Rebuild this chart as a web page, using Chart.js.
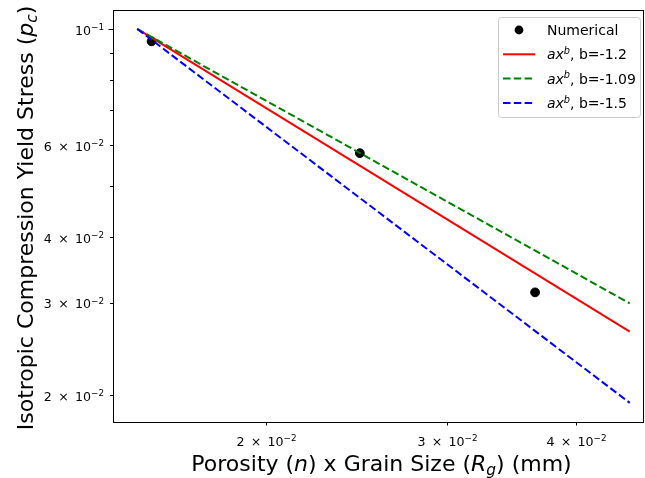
<!DOCTYPE html>
<html>
<head>
<meta charset="utf-8">
<script src="https://cdn.jsdelivr.net/npm/chart.js@4.4.0/dist/chart.umd.min.js"></script>
<style>
  html, body { margin: 0; padding: 0; background: #fff; }
  canvas { display: block; }
</style>
</head>
<body>
<canvas id="chart" width="645" height="478"></canvas>
<script>
// values
const xNumerical = [0.01549, 0.02467, 0.0365];
const yNumerical = [0.0947, 0.0579, 0.03138];

const xFit = [0.0150, 0.0451];
const yFitB12 = [0.1, 0.0264];   // b = -1.2
const yFitB109 = [0.1, 0.0299];  // b = -1.09
const yFitB15 = [0.1, 0.0193];   // b = -1.5

const fitExponents = ['-1.2', '-1.09', '-1.5'];

const xMin = 0.01421, xMax = 0.04656;
const yMin = 0.01774, yMax = 0.1087;

const xTickValues = [0.02, 0.03, 0.04];
const xTickLabels = ['2 × 10^−2', '3 × 10^−2', '4 × 10^−2'];
const yTickValues = [0.1, 0.06, 0.04, 0.03, 0.02];
const yTickLabels = ['10^−1', '6 × 10^−2', '4 × 10^−2', '3 × 10^−2', '2 × 10^−2'];
const yMajorTicks = [0.1];
const yMinorTicks = [0.09, 0.08, 0.07, 0.06, 0.05, 0.04, 0.03, 0.02];

const FONT = '"DejaVu Sans", "Liberation Sans", sans-serif';

function pts(xs, ys) {
    return xs.map((v, i) => ({ x: v, y: ys[i] }));
}

// draw text made of pieces: italic, superscript, subscript
function drawRich(ctx, segs, x, y, size, align) {
    const fontFor = s => {
        const sz = (s.sup || s.sub) ? size * 0.7 : size;
        return `${s.it ? 'italic ' : ''}${sz}px ${FONT}`;
    };
    let total = 0;
    const widths = segs.map(s => {
        ctx.font = fontFor(s);
        const w = ctx.measureText(s.t).width;
        total += w;
        return w;
    });
    let cx = x;
    if (align === 'center') cx = x - total / 2;
    else if (align === 'right') cx = x - total;
    ctx.textAlign = 'left';
    ctx.textBaseline = 'alphabetic';
    segs.forEach((s, i) => {
        ctx.font = fontFor(s);
        let dy = 0;
        if (s.sup) dy = -size * 0.37;
        if (s.sub) dy = size * 0.18;
        ctx.fillText(s.t, cx, y + dy);
        cx += widths[i];
    });
}

function tickSegs(label) {
    const parts = label.split('^');
    return [{ t: parts[0].replace(/ /g, '\u2002') }, { t: parts[1], sup: true }];
}

const decor = {
    id: 'decor',
    afterDatasetsDraw(chart) {
        const { ctx, chartArea: a, scales: { x, y } } = chart;
        ctx.save();
        ctx.fillStyle = '#000';
        ctx.strokeStyle = '#000';
        ctx.lineWidth = 1;

        // frame
        ctx.strokeRect(a.left + 0.5, a.top + 0.5, a.right - a.left - 1, a.bottom - a.top);

        // y ticks
        yMinorTicks.concat(yMajorTicks).forEach(v => {
            const len = yMajorTicks.includes(v) ? 5 : 3.5;
            const py = Math.round(y.getPixelForValue(v)) + 0.5;
            ctx.beginPath();
            ctx.moveTo(a.left + 0.5 - len, py);
            ctx.lineTo(a.left + 0.5, py);
            ctx.stroke();
        });
        yTickValues.forEach((v, i) => {
            const py = y.getPixelForValue(v);
            drawRich(ctx, tickSegs(yTickLabels[i]), a.left - 9, py + 5.8, 12.6, 'right');
        });

        // x ticks
        xTickValues.forEach((v, i) => {
            const px = Math.round(x.getPixelForValue(v)) + 0.5;
            ctx.beginPath();
            ctx.moveTo(px, a.bottom);
            ctx.lineTo(px, a.bottom + 3.5);
            ctx.stroke();
            drawRich(ctx, tickSegs(xTickLabels[i]), px, a.bottom + 24, 12.6, 'center');
        });

        // axis titles
        drawRich(ctx, [
            { t: 'Porosity (' }, { t: 'n', it: true }, { t: ') x Grain Size (' },
            { t: 'R', it: true }, { t: 'g', it: true, sub: true }, { t: ') (mm)' }
        ], (a.left + a.right) / 2 + 3, 471, 22, 'center');

        ctx.save();
        ctx.translate(33, (a.top + a.bottom) / 2 + 2);
        ctx.rotate(-Math.PI / 2);
        drawRich(ctx, [
            { t: 'Isotropic Compression Yield Stress (' }, { t: 'p', it: true },
            { t: 'c', it: true, sub: true }, { t: ')' }
        ], 0, 0, 22, 'center');
        ctx.restore();

        // legend
        const lx = 498.5, ly = 17.5, lw = 142, lh = 100;
        ctx.beginPath();
        ctx.roundRect(lx, ly, lw, lh, 3);
        ctx.fillStyle = 'rgba(255,255,255,0.8)';
        ctx.fill();
        ctx.strokeStyle = '#cccccc';
        ctx.stroke();

        const rows = [30, 54.3, 78.6, 103];
        const sets = chart.data.datasets;
        rows.forEach((ry, i) => {
            const ds = sets[i];
            if (i === 0) {
                ctx.beginPath();
                ctx.arc(519, ry, 4.4, 0, Math.PI * 2);
                ctx.fillStyle = '#000';
                ctx.fill();
            } else {
                ctx.beginPath();
                ctx.setLineDash(ds.borderDash || []);
                ctx.strokeStyle = ds.borderColor;
                ctx.lineWidth = 2;
                ctx.moveTo(503, ry);
                ctx.lineTo(535, ry);
                ctx.stroke();
                ctx.setLineDash([]);
            }
            ctx.fillStyle = '#000';
            const segs = i === 0
                ? [{ t: 'Numerical' }]
                : [{ t: 'ax', it: true }, { t: 'b', it: true, sup: true }, { t: ', b=' + fitExponents[i - 1] }];
            drawRich(ctx, segs, 547, ry + 5, 14, 'left');
        });

        ctx.restore();
    }
};

new Chart(document.getElementById('chart').getContext('2d'), {
    type: 'scatter',
    data: {
        datasets: [
            { label: 'Numerical', data: pts(xNumerical, yNumerical), backgroundColor: '#000', borderColor: '#000',
              pointRadius: 4.4, showLine: false, order: 3 },
            { label: 'b=-1.2', data: pts(xFit, yFitB12), borderColor: '#ff0000', borderWidth: 2,
              pointRadius: 0, showLine: true, order: 2 },
            { label: 'b=-1.09', data: pts(xFit, yFitB109), borderColor: '#008000', borderWidth: 2,
              borderDash: [7.5, 3.3], pointRadius: 0, showLine: true, order: 1 },
            { label: 'b=-1.5', data: pts(xFit, yFitB15), borderColor: '#0000ff', borderWidth: 2,
              borderDash: [7.5, 3.3], pointRadius: 0, showLine: true, order: 0 }
        ]
    },
    options: {
        responsive: false,
        animation: false,
        devicePixelRatio: 1,
        events: [],
        layout: { autoPadding: false, padding: { left: 113, top: 10, right: 1, bottom: 56 } },
        plugins: { legend: { display: false }, tooltip: { enabled: false } },
        scales: {
            x: { type: 'logarithmic', min: xMin, max: xMax, display: false },
            y: { type: 'logarithmic', min: yMin, max: yMax, display: false }
        }
    },
    plugins: [decor]
});
</script>
</body>
</html>
